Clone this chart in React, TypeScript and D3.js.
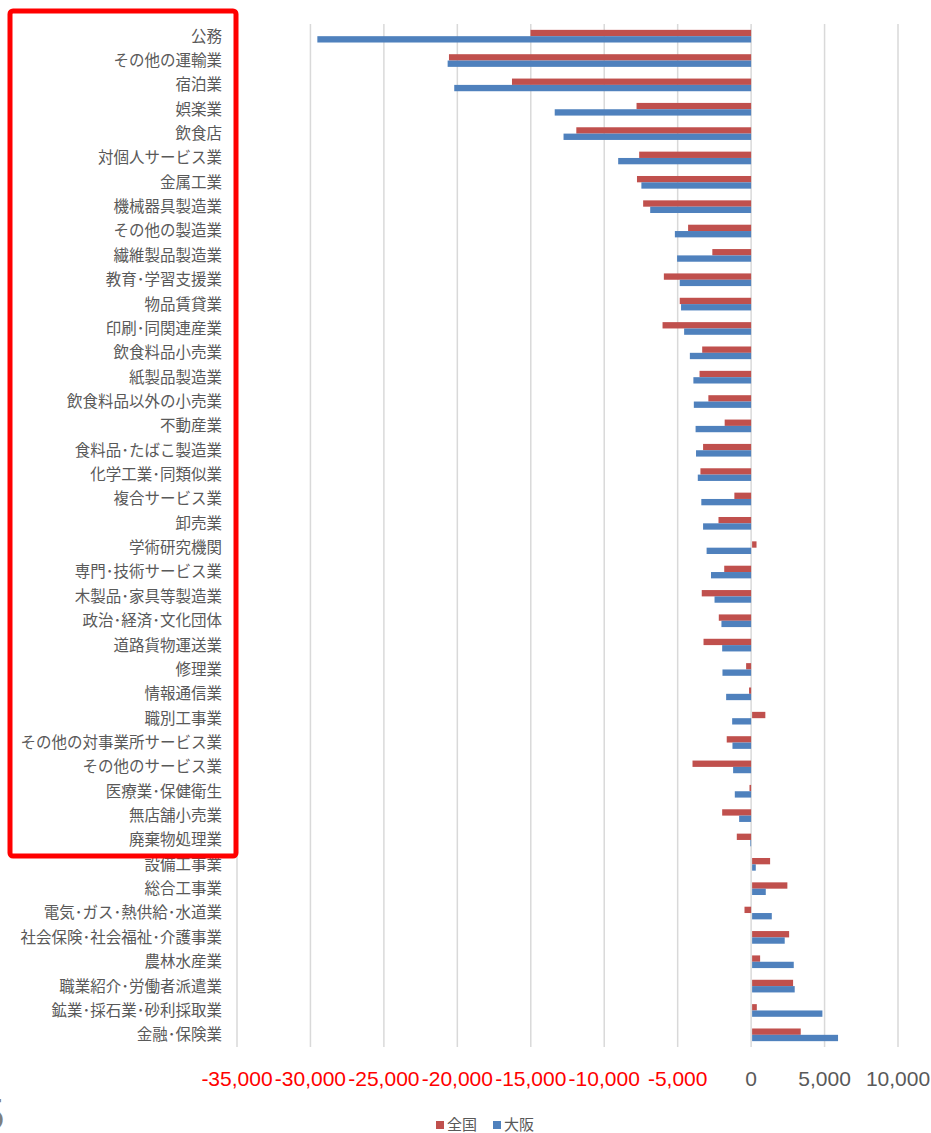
import React, { useEffect, useRef } from "react";
import * as d3 from "d3";

const categories = [
  "公務", "その他の運輸業", "宿泊業", "娯楽業", "飲食店", "対個人サービス業",
  "金属工業", "機械器具製造業", "その他の製造業", "繊維製品製造業", "教育･学習支援業",
  "物品賃貸業", "印刷･同関連産業", "飲食料品小売業", "紙製品製造業", "飲食料品以外の小売業",
  "不動産業", "食料品･たばこ製造業", "化学工業･同類似業", "複合サービス業", "卸売業",
  "学術研究機関", "専門･技術サービス業", "木製品･家具等製造業", "政治･経済･文化団体",
  "道路貨物運送業", "修理業", "情報通信業", "職別工事業", "その他の対事業所サービス業",
  "その他のサービス業", "医療業･保健衛生", "無店舗小売業", "廃棄物処理業", "設備工事業",
  "総合工事業", "電気･ガス･熱供給･水道業", "社会保険･社会福祉･介護事業", "農林水産業",
  "職業紹介･労働者派遣業", "鉱業･採石業･砂利採取業", "金融･保険業",
];

// 全国
const zenkoku = [
  -15020, -20570, -16280, -7800, -11900, -7620, -7770, -7350, -4290, -2640, -5940,
  -4860, -6030, -3330, -3510, -2910, -1800, -3270, -3450, -1140, -2220,
  300, -1830, -3360, -2200, -3240, -340, -140, 900, -1660,
  -3990, -110, -1970, -975, 1225, 2400, -450, 2520, 545, 2790, 320, 3310,
];

// 大阪
const osaka = [
  -29530, -20660, -20210, -13370, -12770, -9050, -7470, -6870, -5190, -5040, -4860,
  -4770, -4560, -4170, -3930, -3900, -3780, -3750, -3630, -3390, -3270,
  -3030, -2730, -2490, -2020, -1970, -1950, -1700, -1290, -1270,
  -1225, -1110, -815, -50, 250, 930, 1340, 2220, 2835, 2900, 4785, 5850,
];

const seriesNames = ["全国", "大阪"];
const seriesColors = ["#C0504D", "#4F81BD"];
const tickValues = [-35000, -30000, -25000, -20000, -15000, -10000, -5000, 0, 5000, 10000];

function App() {
  const svgRef = useRef<SVGSVGElement | null>(null);

  useEffect(() => {
    drawChart();
  }, []);

  const drawChart = () => {
    const svg = d3.select(svgRef.current);
    svg.selectAll("*").remove();

    const jpFont = "'Noto Sans CJK JP', sans-serif";
    const numFont = "'Liberation Sans', Arial, sans-serif";
    const textColor = "#595959";
    const fmt = (v: number) => d3.format(",")(v).replace("\u2212", "-");

    const x = d3.scaleLinear().domain([-35000, 10000]).range([237, 898]);
    const y = d3.scaleBand<string>().domain(categories).range([24, 1047]);
    const inner = d3
      .scaleBand<number>()
      .domain([0, 1])
      .range([y.bandwidth() * 0.24, y.bandwidth() * 0.76]);

    // gridlines
    svg
      .append("g")
      .selectAll("line")
      .data(tickValues)
      .enter()
      .append("line")
      .attr("x1", (d) => x(d))
      .attr("x2", (d) => x(d))
      .attr("y1", 24)
      .attr("y2", 1047)
      .attr("stroke", "#d9d9d9")
      .attr("stroke-width", 1.5);

    // bars
    const series = [zenkoku, osaka];
    series.forEach((values, si) => {
      svg
        .append("g")
        .selectAll("rect")
        .data(values)
        .enter()
        .append("rect")
        .attr("x", (d) => (d < 0 ? x(d) : x(0) + 1))
        .attr("width", (d) => Math.abs(x(d) - x(0)))
        .attr("y", (_, i) => (y(categories[i]) as number) + (inner(si) as number))
        .attr("height", inner.bandwidth())
        .attr("fill", seriesColors[si]);
    });

    // category labels
    svg
      .append("g")
      .selectAll("text")
      .data(categories)
      .enter()
      .append("text")
      .attr("x", 222)
      .attr("y", (d) => (y(d) as number) + y.bandwidth() / 2)
      .attr("dy", "0.35em")
      .attr("text-anchor", "end")
      .attr("font-family", jpFont)
      .attr("font-size", 15.5)
      .attr("fill", textColor)
      .text((d) => d);

    // value axis labels
    svg
      .append("g")
      .selectAll("text")
      .data(tickValues)
      .enter()
      .append("text")
      .attr("x", (d) => x(d))
      .attr("y", 1086)
      .attr("text-anchor", "middle")
      .attr("font-family", numFont)
      .attr("font-size", 21)
      .attr("fill", (d) => (d < 0 ? "#FF0000" : textColor))
      .text((d) => fmt(d));

    // legend
    const legend = svg.append("g").attr("transform", "translate(436,1125)");
    const offsets = [0, 57];
    seriesNames.forEach((name, i) => {
      legend
        .append("rect")
        .attr("x", offsets[i])
        .attr("y", -4)
        .attr("width", 8)
        .attr("height", 8)
        .attr("fill", seriesColors[i]);
      legend
        .append("text")
        .attr("x", offsets[i] + 11)
        .attr("y", 0)
        .attr("dy", "0.35em")
        .attr("font-family", jpFont)
        .attr("font-size", 15)
        .attr("fill", textColor)
        .text(name);
    });

    // highlight box
    svg
      .append("rect")
      .attr("x", 10)
      .attr("y", 11)
      .attr("width", 226)
      .attr("height", 845)
      .attr("rx", 3)
      .attr("fill", "none")
      .attr("stroke", "#FF0000")
      .attr("stroke-width", 5);

    // cropped glyph at lower-left edge
    svg
      .append("text")
      .attr("x", -20)
      .attr("y", 1130)
      .attr("font-family", numFont)
      .attr("font-size", 44)
      .attr("fill", "#7f7f7f")
      .text("5");
  };

  return (
    <div style={{ position: "absolute", left: 0, top: 0 }}>
      <svg ref={svgRef} width={931} height={1133} style={{ display: "block", background: "#fff" }} />
    </div>
  );
}

export default App;
